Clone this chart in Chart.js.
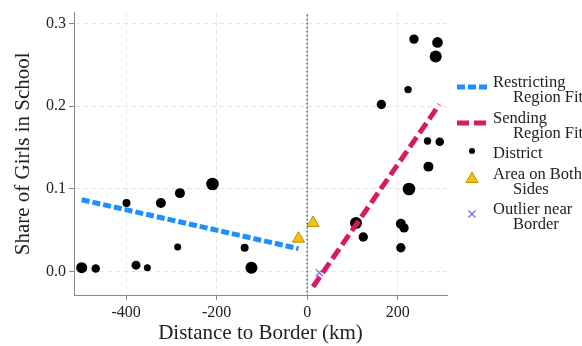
<!DOCTYPE html>
<html>
<head>
<meta charset="utf-8">
<script src="https://cdn.jsdelivr.net/npm/chart.js@4.4.1/dist/chart.umd.min.js"></script>
<style>
  html, body { margin: 0; padding: 0; background: #fff; }
  #wrap { width: 582px; height: 346px; }
</style>
</head>
<body>
<div id="wrap"><canvas id="myChart" width="582" height="346"></canvas></div>
<script>
// districts: distance to border (km), share of girls in school, relative weight
const districtKm = [-498, -467, -399, -378, -353, -323, -286, -281, -209, -138, -123,
    108, 124, 164, 207, 214, 207, 223, 225, 236, 266, 268, 284, 288, 293];
const districtShare = [0.005, 0.004, 0.083, 0.008, 0.005, 0.083, 0.030, 0.095, 0.106, 0.029, 0.005,
    0.059, 0.042, 0.202, 0.058, 0.053, 0.029, 0.220, 0.100, 0.281, 0.158, 0.127, 0.260, 0.277, 0.157];
const districtWeight = [3.9, 2.1, 1.7, 2.4, 1.0, 3.1, 1.0, 3.1, 5.0, 1.7, 4.6,
    4.6, 2.7, 2.7, 3.1, 2.7, 2.7, 1.3, 5.0, 2.7, 1.3, 3.1, 4.6, 3.6, 2.1];

const bothSidesKm = [-19, 13];
const bothSidesShare = [0.040, 0.059];

const outlierKm = [27];
const outlierShare = [-0.001];

const restrictFitKm = [-498, -19];
const restrictFitShare = [0.087, 0.028];
const sendFitKm = [13, 292];
const sendFitShare = [-0.018, 0.202];

const xTicks = [-400, -200, 0, 200];
const yTicks = [0, 0.1, 0.2, 0.3];
const borderKm = 0;

const FONT = '"Liberation Serif", "Times New Roman", serif';
const TEXT = '#222';

function pts(xs, ys) {
    return xs.map((x, i) => ({ x: x, y: ys[i] }));
}

// dotted line at the border
const borderLine = {
    id: 'borderLine',
    beforeDatasetsDraw(chart) {
        const ctx = chart.ctx;
        const x = chart.scales.x.getPixelForValue(borderKm);
        const a = chart.chartArea;
        ctx.save();
        ctx.strokeStyle = '#222';
        ctx.lineWidth = 1;
        ctx.setLineDash([2, 2]);
        ctx.beginPath();
        ctx.moveTo(x, a.top + 2);
        ctx.lineTo(x, a.bottom);
        ctx.stroke();
        ctx.restore();
    }
};

// legend on the right, two-line labels
const sideLegend = {
    id: 'sideLegend',
    afterDraw(chart) {
        const ctx = chart.ctx;
        const ds = chart.data.datasets;
        const x0 = 457, x1 = 487, xm = 472, tx = 493, tx2 = 513;
        ctx.save();
        ctx.font = '16.5px ' + FONT;
        ctx.fillStyle = TEXT;
        ctx.textBaseline = 'middle';

        function lineKey(d, y) {
            ctx.save();
            ctx.strokeStyle = d.borderColor;
            ctx.lineWidth = d.borderWidth;
            ctx.setLineDash(d.borderDash);
            ctx.beginPath();
            ctx.moveTo(x0, y);
            ctx.lineTo(x1, y);
            ctx.stroke();
            ctx.restore();
        }
        lineKey(ds[3], 87);
        ctx.fillText('Restricting', tx, 83);
        ctx.fillText('Region Fit', tx2, 98);
        lineKey(ds[4], 123);
        ctx.fillText('Sending', tx, 119);
        ctx.fillText('Region Fit', tx2, 134);

        ctx.save();
        ctx.fillStyle = '#000';
        ctx.beginPath();
        ctx.arc(xm, 151, 3, 0, Math.PI * 2);
        ctx.fill();
        ctx.restore();
        ctx.fillText('District', tx, 154);

        ctx.save();
        ctx.fillStyle = ds[1].backgroundColor;
        ctx.strokeStyle = ds[1].borderColor;
        ctx.lineWidth = 1;
        Chart.helpers.drawPoint(ctx, { pointStyle: 'triangle', radius: 7, borderWidth: 1, rotation: 0 }, xm, 179);
        ctx.restore();
        ctx.fillText('Area on Both', tx, 175);
        ctx.fillText('Sides', tx2, 190);

        ctx.save();
        ctx.strokeStyle = ds[2].borderColor;
        ctx.lineWidth = 1.3;
        Chart.helpers.drawPoint(ctx, { pointStyle: 'crossRot', radius: 5, borderWidth: 1.3, rotation: 0 }, xm, 214);
        ctx.restore();
        ctx.fillText('Outlier near', tx, 210);
        ctx.fillText('Border', tx2, 225);
        ctx.restore();
    }
};

const ctx = document.getElementById('myChart').getContext('2d');
const myChart = new Chart(ctx, {
    type: 'scatter',
    data: {
        datasets: [{
            label: 'District',
            data: pts(districtKm, districtShare),
            backgroundColor: '#000',
            borderWidth: 0,
            pointRadius: districtWeight.map(w => 2.8 + 0.7 * w),
            order: 5
        }, {
            label: 'Area on Both Sides',
            data: pts(bothSidesKm, bothSidesShare),
            pointStyle: 'triangle',
            pointRadius: 7,
            backgroundColor: '#F5C211',
            borderColor: '#B89000',
            borderWidth: 1,
            order: 4
        }, {
            label: 'Outlier near Border',
            data: pts(outlierKm, outlierShare),
            pointStyle: 'crossRot',
            pointRadius: 5,
            borderColor: '#7B68EE',
            borderWidth: 1.3,
            order: 1
        }, {
            label: 'Restricting Region Fit',
            type: 'line',
            data: pts(restrictFitKm, restrictFitShare),
            borderColor: '#1E8FFF',
            borderWidth: 5,
            borderDash: [8, 3],
            pointRadius: 0,
            order: 3
        }, {
            label: 'Sending Region Fit',
            type: 'line',
            data: pts(sendFitKm, sendFitShare),
            borderColor: '#D81B60',
            borderWidth: 5,
            borderDash: [12, 5],
            pointRadius: 0,
            order: 2
        }]
    },
    options: {
        responsive: false,
        animation: false,
        layout: { padding: { top: 5, right: 135, left: 0, bottom: 0 } },
        plugins: {
            legend: { display: false },
            tooltip: { enabled: false }
        },
        scales: {
            x: {
                type: 'linear',
                min: -515,
                max: 309,
                afterBuildTicks: s => { s.ticks = xTicks.map(v => ({ value: v })); },
                afterFit: s => { s.height = 51; },
                grid: { color: '#e6e6e6', tickColor: '#888', tickLength: 5 },
                border: { color: '#888', dash: [5, 3] },
                ticks: { font: { family: FONT, size: 16 }, color: TEXT, padding: 3, maxRotation: 0 },
                title: {
                    display: true, text: 'Distance to Border (km)',
                    font: { family: FONT, size: 21 }, color: TEXT, padding: { top: 0, bottom: 0 }
                }
            },
            y: {
                min: -0.028,
                max: 0.313,
                afterBuildTicks: s => { s.ticks = yTicks.map(v => ({ value: v })); },
                afterFit: s => { s.width = 74; },
                grid: { color: '#e6e6e6', tickColor: '#888', tickLength: 5 },
                border: { color: '#888', dash: [5, 3] },
                ticks: {
                    font: { family: FONT, size: 16 }, color: TEXT, padding: 3,
                    callback: v => v.toFixed(1)
                },
                title: {
                    display: true, text: 'Share of Girls in School',
                    font: { family: FONT, size: 21 }, color: TEXT, padding: { top: 11, bottom: 0 }
                }
            }
        }
    },
    plugins: [borderLine, sideLegend]
});
</script>
</body>
</html>
